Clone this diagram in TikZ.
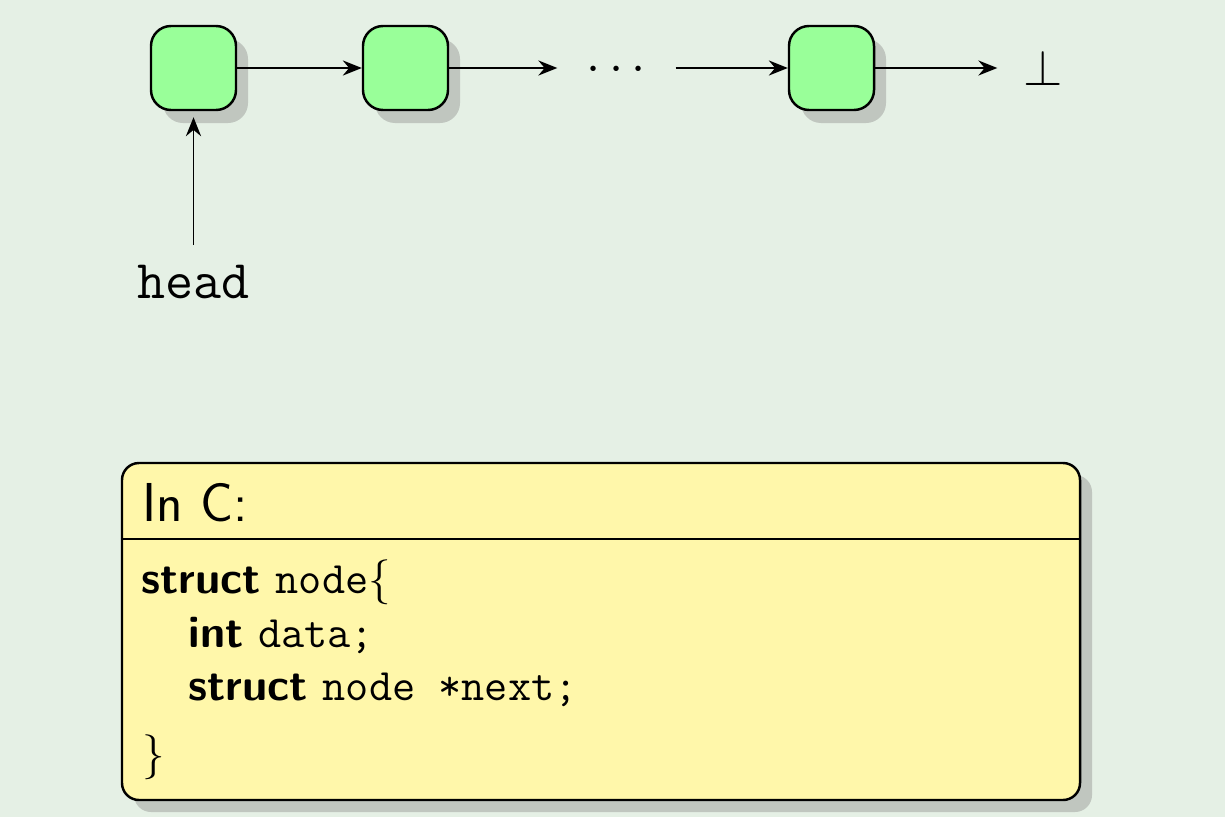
\RequirePackage{fix-cm}
\documentclass[tikz,border=0pt]{standalone}
\usepackage{fontspec}
\usepackage{tikz}
\usetikzlibrary{arrows.meta}
\usetikzlibrary{positioning}
\usetikzlibrary{shadows}

\definecolor{bgcol}{RGB}{229,240,229}
\definecolor{nodegreen}{RGB}{153,255,153}
\definecolor{codeyellow}{RGB}{255,247,170}
\definecolor{shadowgray}{RGB}{192,198,191}

\tikzset{
	listnode/.style={draw, line width=0.7pt, rounded corners=0.2cm, fill=nodegreen,
		minimum width=0.85cm, minimum height=0.84cm, inner sep=0pt,
		drop shadow={shadow xshift=0.12cm, shadow yshift=-0.13cm, fill=shadowgray, opacity=1}},
	link/.style={-{Stealth[length=5.4pt, width=4.3pt, inset=1.8pt]}, line width=0.5pt},
	rowtext/.style={font=\fontsize{14.4}{17}\selectfont, inner sep=0pt},
	codebox/.style={draw, line width=0.7pt, rounded corners=0.17cm, fill=codeyellow,
		minimum width=9.58cm, minimum height=3.37cm,
		drop shadow={shadow xshift=0.12cm, shadow yshift=-0.12cm, fill=shadowgray, opacity=1}},
	codeline/.style={anchor=base west, inner sep=0pt, font=\sffamily\fontsize{12.8}{15}\selectfont}
}

\begin{document}
\begin{tikzpicture}
\fill[bgcol] (0,0) rectangle (12.25,-8.17);
\useasboundingbox (0,0) rectangle (12.25,-8.17);

% the list
\node[listnode] (first) at (1.935,-0.68) {};
\node[listnode] (second) at (4.055,-0.68) {};
\node[rowtext, minimum width=1.17cm, text height=0.84em, text depth=0.1em] (dots) at (6.165,-0.68) {$\cdots$};
\node[listnode] (last) at (8.315,-0.68) {};
\node[rowtext, minimum width=0.91cm] (null) at (10.435,-0.68) {$\bot$};

\draw[link] (first) -- (second);
\draw[link] (second) -- (dots);
\draw[link] (dots) -- (last);
\draw[link] (last) -- (null);

% head pointer
\node[anchor=base, inner sep=3.7pt, font=\ttfamily\fontsize{15.5}{18}\selectfont] (head) at (1.935,-2.98) {head};
\draw[link, shorten <=0.06cm, shorten >=0.06cm] (head) -- (first);

% the C declaration
\node[codebox] (decl) at (6.01,-6.315) {};
\draw[line width=0.7pt] ([yshift=-0.77cm]decl.north west) -- ([yshift=-0.77cm]decl.north east);

\node[codeline, font=\sffamily\fontsize{15.6}{19}\selectfont] (title) at (1.42,-5.21) {In C:};
\node[codeline] (line1) at (1.41,-5.93) {\textbf{struct} \texttt{node}$\{$};
\node[codeline] (line2) at (1.88,-6.47) {\textbf{int} \texttt{data;}};
\node[codeline] (line3) at (1.88,-7.00) {\textbf{struct} \texttt{node *next;}};
\node[codeline] (line4) at (1.42,-7.68) {$\}$};

\end{tikzpicture}
\end{document}
